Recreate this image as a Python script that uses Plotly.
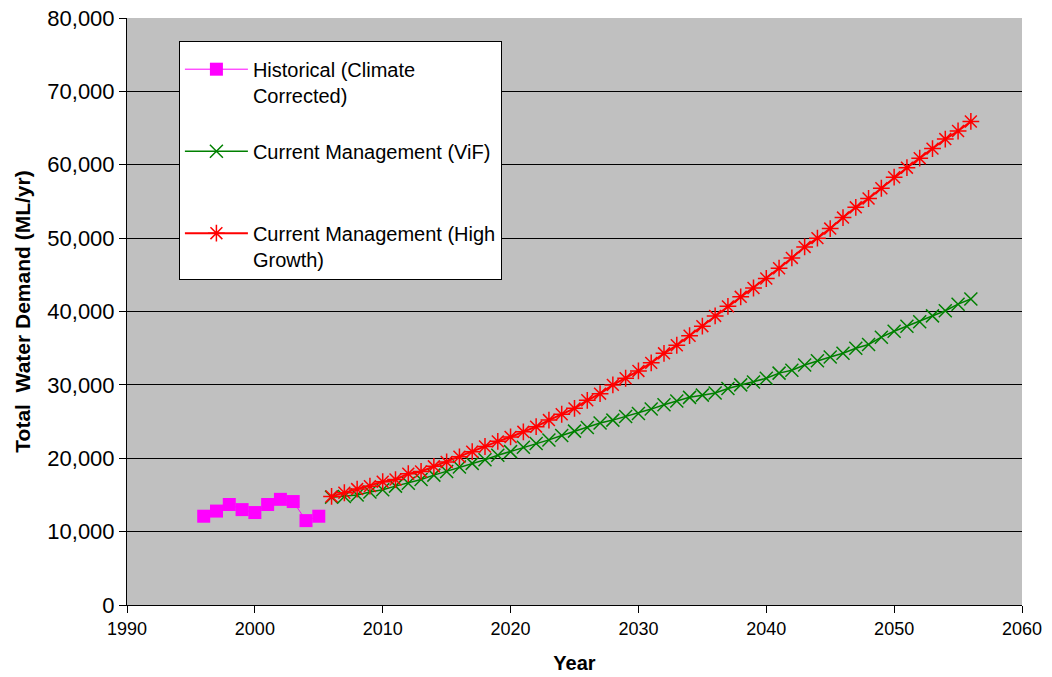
import plotly.graph_objects as go

hist_years = list(range(1996, 2006))
hist_vals = [12100, 12800, 13700, 13000, 12600, 13700, 14400, 14100, 11500, 12100]

proj_years = list(range(2006, 2057))
vif_vals = [14700, 14800, 15000, 15400, 15700, 16200, 16600, 17100, 17700, 18200,
            18800, 19300, 19800, 20400, 20900, 21500, 22000, 22500, 23100, 23700,
            24200, 24800, 25200, 25700, 26100, 26700, 27300, 27800, 28300, 28600,
            28900, 29500, 30000, 30400, 30900, 31600, 32000, 32700, 33300, 33800,
            34300, 35000, 35500, 36500, 37300, 38000, 38600, 39400, 40100, 41000,
            41700]
high_vals = [14800, 15300, 15800, 16200, 16800, 17100, 17900, 18200, 18900, 19500,
             20200, 20900, 21600, 22300, 22900, 23600, 24300, 25200, 26000, 26800,
             27900, 28800, 30000, 30900, 31900, 33000, 34300, 35400, 36700, 38000,
             39400, 40700, 42000, 43200, 44500, 45900, 47300, 48800, 50000, 51300,
             52800, 54200, 55400, 56800, 58300, 59600, 60900, 62200, 63500, 64600,
             65900]

series_names = ["Historical (Climate<br>Corrected)",
                "Current Management (ViF)<br> ",
                "Current Management (High<br>Growth)"]

FONT = "Liberation Sans, Arial, sans-serif"

fig = go.Figure()
fig.add_trace(go.Scatter(
    x=hist_years, y=hist_vals, mode="lines+markers",
    name=series_names[0],
    line=dict(color="#FF00FF", width=1),
    marker=dict(symbol="square", size=13, color="#FF00FF"),
    legendgroup="a"))
fig.add_trace(go.Scatter(
    x=proj_years, y=vif_vals, mode="lines+markers",
    name=series_names[1],
    line=dict(color="#008000", width=1.5),
    marker=dict(symbol="x-thin-open", size=13, line=dict(color="#008000", width=1.5)),
    legendgroup="b"))
fig.add_trace(go.Scatter(
    x=proj_years, y=high_vals, mode="lines+markers",
    name=series_names[2],
    line=dict(color="#FF0000", width=2),
    marker=dict(symbol="asterisk-open", size=14, line=dict(color="#FF0000", width=1.5)),
    legendgroup="c"))

fig.update_layout(
    width=1052, height=677, autosize=False,
    margin=dict(l=127, r=30, t=18, b=72, autoexpand=False),
    paper_bgcolor="white",
    plot_bgcolor="#C0C0C0",
    font=dict(family=FONT, size=20, color="black"),
    showlegend=True,
    legend=dict(
        x=0.058, y=0.961, xanchor="left", yanchor="top",
        bgcolor="white", bordercolor="black", borderwidth=1,
        font=dict(family=FONT, size=20, color="black"),
        tracegroupgap=27, traceorder="grouped",
        itemwidth=63, valign="top",
        title=dict(text=" ", font=dict(size=6)),
    ),
    xaxis=dict(
        range=[1990, 2060], dtick=10, tick0=1990,
        showgrid=False, zeroline=False, automargin=False,
        showline=True, linecolor="black", linewidth=1,
        ticks="outside", ticklen=7, tickcolor="black",
        tickfont=dict(family=FONT, size=18),
        title=dict(text="<b>Year</b>", font=dict(family=FONT, size=20), standoff=18),
    ),
    yaxis=dict(
        range=[0, 80000], dtick=10000,
        showgrid=True, gridcolor="#000000", gridwidth=1,
        zeroline=False, automargin=False,
        showline=True, linecolor="black", linewidth=1,
        ticks="outside", ticklen=7, tickcolor="black",
        tickformat=",d",
        tickfont=dict(family=FONT, size=22),
        title=dict(text="<b>Total\u00a0 Water Demand (ML/yr)</b>", font=dict(family=FONT, size=21), standoff=10),
    ),
)

# remove the page's default 8px body margin so the figure fills the 1052x677 window
fig.write_html("out.html", config={"displayModeBar": False},
               post_script="document.body.style.margin='0px';")
